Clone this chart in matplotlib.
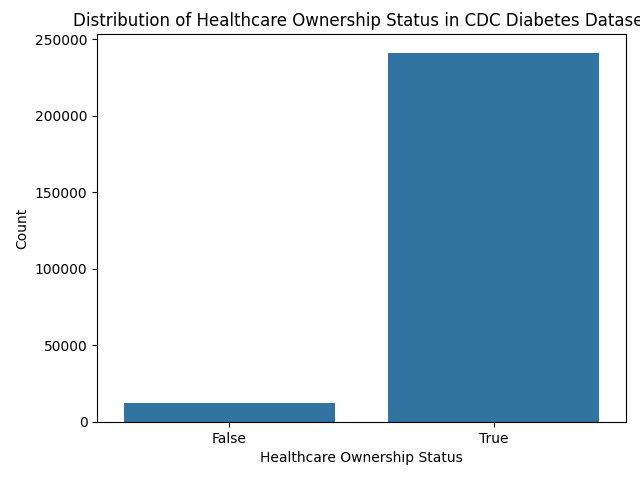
import matplotlib
matplotlib.use("Agg")
import matplotlib.pyplot as plt
import seaborn as sns

categories = ["False", "True"]
counts = [12417, 241263]

fig, ax = plt.subplots(figsize=(6.4, 4.8), dpi=100)
sns.barplot(x=categories, y=counts, color="#1f77b4", saturation=0.75, ax=ax)
ax.set_title("Distribution of Healthcare Ownership Status in CDC Diabetes Dataset")
ax.set_xlabel("Healthcare Ownership Status")
ax.set_ylabel("Count")
fig.subplots_adjust(left=0.152, right=0.978, top=0.929, bottom=0.121)
fig.savefig("out.png")
